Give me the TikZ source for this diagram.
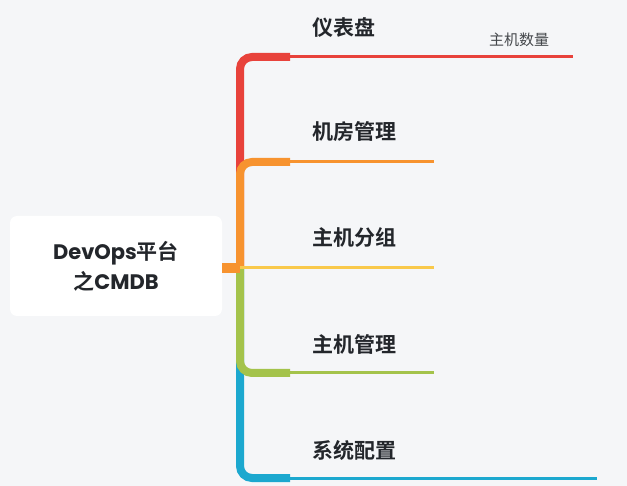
\documentclass[tikz,border=0pt]{standalone}
\usepackage{fontspec}
\newfontfamily\cjk{Noto Sans CJK SC}[BoldFont={Noto Sans CJK SC Bold}]
\newfontfamily\latin{Poppins}
\usetikzlibrary{positioning}
\definecolor{cbg}{HTML}{F5F6F8}
\definecolor{cred}{HTML}{E8423B}
\definecolor{corange}{HTML}{F7932F}
\definecolor{cyellow}{HTML}{F9C94B}
\definecolor{cgreen}{HTML}{A4C34B}
\definecolor{cblue}{HTML}{1CA8CF}
\definecolor{ctext}{HTML}{23262B}

\begin{document}
\begin{tikzpicture}[x=1pt, y=-1pt,
  root/.style={fill=white, rounded corners=7pt, minimum width=212pt, minimum height=100pt, align=center, text=ctext, font=\cjk\bfseries\fontsize{21}{30}\selectfont},
  topic/.style={anchor=west, inner sep=0pt, text=ctext, font=\cjk\bfseries\fontsize{21}{24}\selectfont},
  sub/.style={anchor=west, inner sep=0pt, text=ctext!85, font=\cjk\fontsize{15}{18}\selectfont},
  trunk/.style={line width=8pt, rounded corners=12pt},
  tail/.style={line width=3pt}
]
\fill[cbg] (0,0) rectangle (627,486);
\useasboundingbox (0,0) rectangle (627,486);

\node[root] (r) at (116,266) {{\latin\bfseries DevOps}平台\\之{\latin\bfseries CMDB}};
\coordinate (j) at (240,268);

\coordinate (k1) at (290,57);  \coordinate (e1) at (573,57);
\coordinate (k2) at (290,162); \coordinate (e2) at (434,162);
\coordinate (k3) at (290,268); \coordinate (e3) at (434,268);
\coordinate (k4) at (290,373); \coordinate (e4) at (434,373);
\coordinate (k5) at (290,478); \coordinate (e5) at (597,478);

\node[topic] (t1) at (312,27)  {仪表盘};
\node[topic] (t2) at (312,132) {机房管理};
\node[topic] (t3) at (312,238) {主机分组};
\node[topic] (t4) at (312,344) {主机管理};
\node[topic] (t5) at (312,450) {系统配置};
\node[sub] (s1) at (489,40) {主机数量};

% branches
\draw[trunk, cred] (j) |- (k1);
\draw[tail, cred] (k1) -- (e1);
\draw[trunk, corange] (j) |- (k2);
\draw[tail, corange] (k2) -- (e2);
\draw[trunk, cblue] (j) |- (k5);
\draw[tail, cblue] (k5) -- (e5);
\draw[trunk, cgreen] (j) |- (k4);
\draw[tail, cgreen] (k4) -- (e4);
\draw[tail, cyellow] (j) -- (e3);
\draw[line width=10pt, corange] (r.east |- j) -- (j);
\end{tikzpicture}
\end{document}
